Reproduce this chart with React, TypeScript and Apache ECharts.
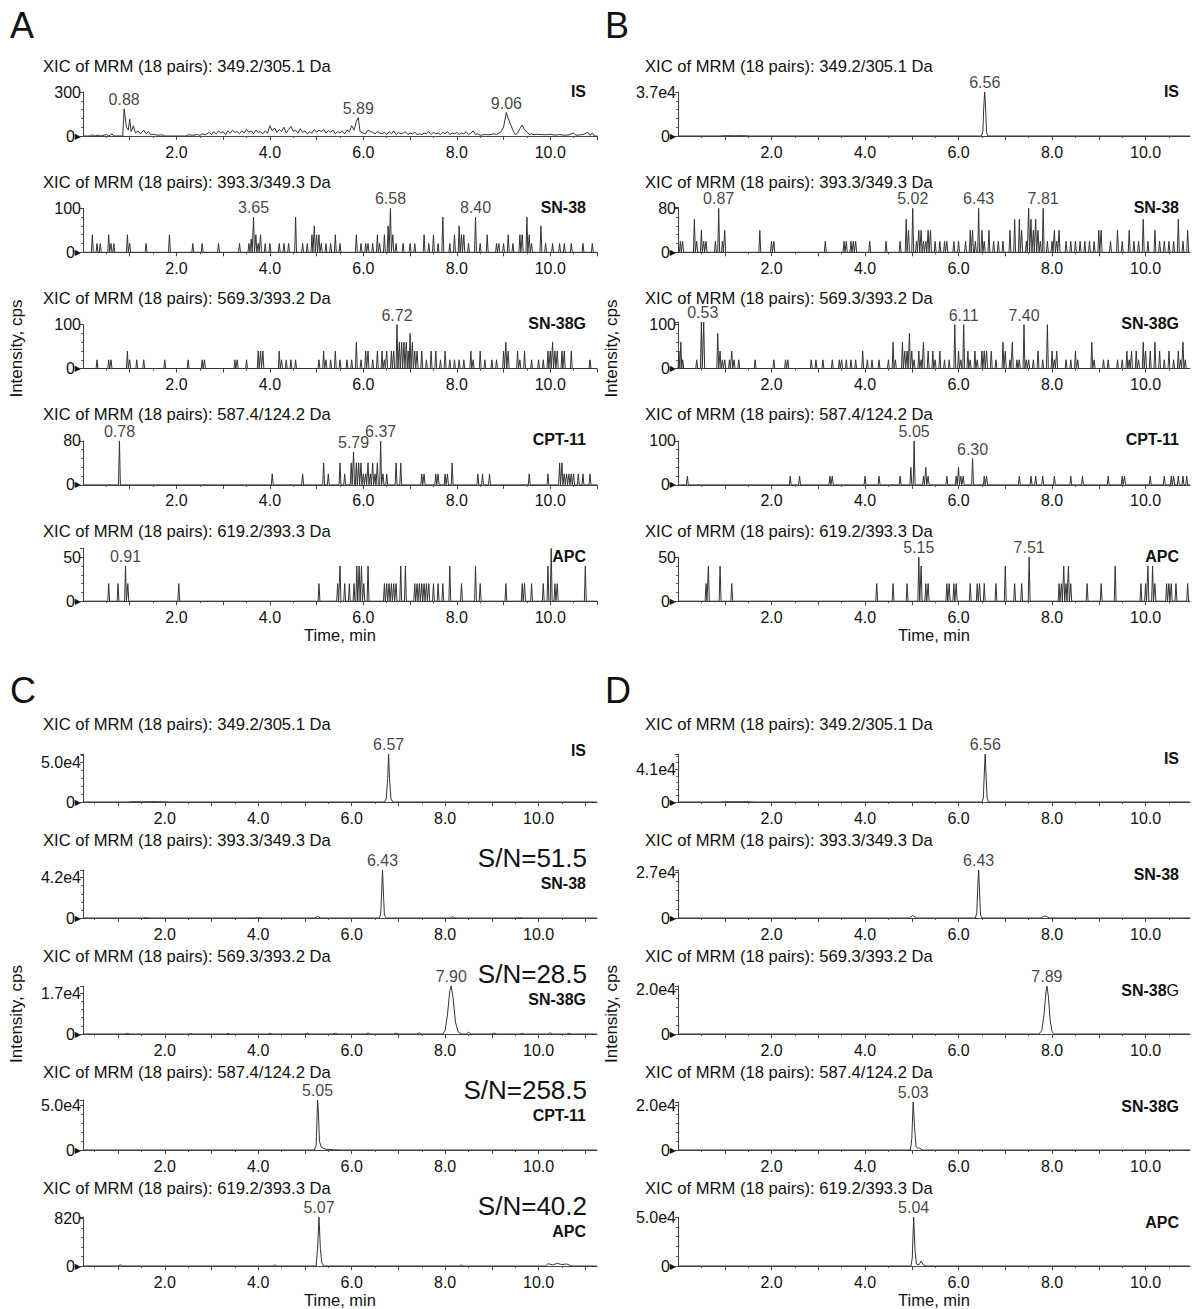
import { useEffect, useRef } from 'react';
import * as echarts from 'echarts';

const FONT = '"Liberation Sans", Arial, Helvetica, sans-serif';
const INK = '#111';
const LINE = '#333';

const TITLES = [
  'XIC of MRM (18 pairs): 349.2/305.1 Da',
  'XIC of MRM (18 pairs): 393.3/349.3 Da',
  'XIC of MRM (18 pairs): 569.3/393.2 Da',
  'XIC of MRM (18 pairs): 587.4/124.2 Da',
  'XIC of MRM (18 pairs): 619.2/393.3 Da',
];
const NAMES_ABC = ['IS', 'SN-38', 'SN-38G', 'CPT-11', 'APC'];
const NAMES_D = ['IS', 'SN-38', 'SN-38G', 'SN-38G', 'APC'];
const SN_C = ['', 'S/N=51.5', 'S/N=28.5', 'S/N=258.5', 'S/N=40.2'];
const X_LABELS = [2, 4, 6, 8, 10];
const X_TICKS = [1, 2, 3, 4, 5, 6, 7, 8, 9, 10, 11];
const X_HALF_TICKS = [0.5, 1.5, 2.5, 3.5, 4.5, 5.5, 6.5, 7.5, 8.5, 9.5, 10.5];

// y-axis: labelled tick value, its text, axis maximum
const Y_TICK_A = [300, 100, 100, 80, 50];
const Y_TEXT_A = ['300', '100', '100', '80', '50'];
const Y_MAX_A = [300, 100, 100, 80, 60];
const Y_TICK_B = [37000, 80, 100, 100, 50];
const Y_TEXT_B = ['3.7e4', '80', '100', '100', '50'];
const Y_MAX_B = [37000, 82, 106, 100, 50];
const Y_TICK_C = [50000, 42000, 17000, 50000, 820];
const Y_TEXT_C = ['5.0e4', '4.2e4', '1.7e4', '5.0e4', '820'];
const Y_MAX_C = [61000, 50000, 20000, 56000, 850];
const Y_TICK_D = [41000, 27000, 20000, 20000, 50000];
const Y_TEXT_D = ['4.1e4', '2.7e4', '2.0e4', '2.0e4', '5.0e4'];
const Y_MAX_D = [60000, 28500, 21500, 21500, 50000];

// ---------- Panel A traces ----------
const A1: number[][] = [
  [0.15, 0], [0.2, 8], [0.25, 0], [0.33, 6], [0.38, 0], [0.5, 10], [0.55, 0], [0.62, 15], [0.66, 0], [0.85, 0],
  [0.88, 185], [0.93, 60], [0.97, 40], [1.0, 115], [1.03, 30], [1.08, 70], [1.12, 20], [1.18, 35], [1.23, 15],
  [1.3, 40], [1.35, 15], [1.4, 30], [1.45, 8], [1.5, 12], [1.6, 5], [1.7, 8], [1.75, 0], [2.2, 0], [2.25, 8],
  [2.35, 5], [2.45, 10], [2.5, 4], [2.55, 15], [2.62, 8], [2.7, 25], [2.75, 10], [2.8, 30], [2.85, 15], [2.9, 35],
  [2.95, 20], [3.0, 30], [3.05, 10], [3.1, 35], [3.15, 20], [3.2, 40], [3.25, 25], [3.3, 30], [3.35, 15], [3.4, 35],
  [3.45, 20], [3.5, 45], [3.55, 25], [3.6, 35], [3.65, 15], [3.7, 40], [3.75, 25], [3.8, 30], [3.85, 15], [3.9, 35],
  [3.95, 20], [4.0, 70], [4.05, 35], [4.1, 55], [4.15, 25], [4.2, 45], [4.25, 30], [4.3, 60], [4.35, 20], [4.4, 45],
  [4.45, 65], [4.5, 30], [4.55, 40], [4.6, 20], [4.65, 50], [4.7, 25], [4.75, 35], [4.8, 15], [4.85, 30], [4.9, 20],
  [4.95, 45], [5.0, 25], [5.05, 40], [5.1, 30], [5.15, 45], [5.2, 20], [5.25, 35], [5.3, 25], [5.35, 40], [5.4, 15],
  [5.45, 30], [5.5, 20], [5.55, 35], [5.6, 15], [5.65, 40], [5.7, 30], [5.75, 70], [5.8, 40], [5.85, 100], [5.89, 125],
  [5.93, 30], [6.0, 20], [6.05, 15], [6.1, 40], [6.15, 30], [6.2, 25], [6.25, 15], [6.3, 30], [6.35, 20], [6.4, 15],
  [6.45, 25], [6.5, 10], [6.55, 30], [6.6, 15], [6.65, 35], [6.7, 10], [6.75, 25], [6.8, 15], [6.85, 20], [6.9, 30],
  [6.95, 10], [7.0, 20], [7.05, 15], [7.1, 25], [7.15, 10], [7.2, 15], [7.25, 10], [7.3, 20], [7.35, 15], [7.4, 30],
  [7.45, 10], [7.5, 25], [7.55, 15], [7.6, 20], [7.65, 10], [7.7, 25], [7.75, 15], [7.8, 30], [7.85, 10], [7.9, 20],
  [7.95, 15], [8.0, 25], [8.05, 10], [8.1, 20], [8.15, 15], [8.2, 30], [8.25, 10], [8.3, 20], [8.35, 35], [8.4, 10],
  [8.45, 15], [8.5, 5], [8.6, 10], [8.7, 8], [8.8, 15], [8.85, 10], [8.9, 20], [8.95, 30], [9.0, 60], [9.06, 160],
  [9.1, 120], [9.15, 80], [9.2, 40], [9.25, 10], [9.3, 20], [9.35, 50], [9.4, 75], [9.45, 40], [9.5, 30], [9.55, 10],
  [9.6, 15], [9.65, 8], [9.7, 12], [9.8, 10], [9.9, 8], [10.0, 12], [10.1, 6], [10.2, 10], [10.3, 5], [10.4, 8],
  [10.5, 20], [10.55, 5], [10.7, 10], [10.8, 25], [10.85, 5], [10.9, 20], [10.95, 0],
];
const A2_SPIKES: number[][] = [
  [0.2, 40], [0.3, 20], [0.37, 20], [0.55, 40], [0.6, 20], [0.66, 20], [0.95, 40], [1.0, 20], [1.35, 20], [1.85, 40],
  [2.35, 20], [2.55, 20], [2.9, 20], [3.35, 20], [3.55, 20], [3.6, 30], [3.65, 80], [3.7, 40], [3.75, 20], [3.8, 40],
  [3.9, 20], [4.0, 20], [4.2, 20], [4.3, 20], [4.4, 20], [4.55, 80], [4.7, 20], [4.8, 20], [4.9, 40], [4.95, 60],
  [5.0, 40], [5.05, 40], [5.1, 20], [5.2, 20], [5.3, 20], [5.4, 40], [5.5, 20], [5.85, 40], [5.95, 20], [6.05, 20],
  [6.1, 20], [6.2, 20], [6.3, 40], [6.35, 20], [6.45, 40], [6.53, 60], [6.58, 100], [6.63, 40], [6.7, 20], [6.85, 20],
  [7.0, 20], [7.1, 20], [7.3, 40], [7.4, 20], [7.5, 40], [7.6, 20], [7.7, 80], [7.85, 20], [7.95, 40], [8.05, 60],
  [8.1, 40], [8.15, 40], [8.25, 20], [8.4, 80], [8.5, 20], [8.65, 40], [8.85, 20], [8.9, 20], [9.0, 20], [9.1, 40],
  [9.2, 20], [9.35, 40], [9.4, 40], [9.5, 80], [9.55, 40], [9.6, 20], [9.8, 60], [9.9, 20], [10.05, 20], [10.2, 20],
  [10.3, 20], [10.45, 20], [10.7, 20], [10.9, 20],
];
const A3_SPIKES: number[][] = [
  [0.3, 20], [0.55, 20], [0.6, 20], [0.95, 40], [1.0, 20], [1.15, 20], [1.3, 20], [1.75, 20], [2.25, 20], [2.55, 20],
  [2.6, 20], [3.25, 20], [3.3, 20], [3.5, 20], [3.75, 40], [3.8, 40], [3.85, 40], [4.2, 40], [4.25, 20], [4.35, 20],
  [4.45, 20], [4.55, 20], [5.05, 20], [5.15, 40], [5.2, 20], [5.3, 20], [5.4, 40], [5.5, 20], [5.65, 20], [5.75, 20],
  [5.85, 60], [5.95, 20], [6.05, 40], [6.1, 40], [6.2, 20], [6.3, 40], [6.4, 40], [6.45, 20], [6.5, 40], [6.6, 40],
  [6.65, 40], [6.72, 100], [6.77, 60], [6.82, 60], [6.87, 60], [6.92, 60], [6.96, 40], [7.0, 80], [7.05, 60], [7.1, 40],
  [7.15, 40], [7.25, 40], [7.35, 20], [7.45, 40], [7.55, 40], [7.65, 20], [7.75, 40], [7.85, 20], [7.95, 20], [8.05, 20],
  [8.15, 20], [8.3, 40], [8.35, 20], [8.5, 40], [8.6, 20], [8.75, 20], [8.85, 20], [9.0, 40], [9.05, 60], [9.1, 40],
  [9.3, 40], [9.35, 20], [9.45, 40], [9.6, 20], [9.75, 20], [9.85, 20], [9.95, 40], [10.0, 40], [10.05, 60], [10.1, 40],
  [10.15, 40], [10.25, 40], [10.3, 40], [10.45, 40], [10.85, 20],
];
const A4_SPIKES: number[][] = [
  [0.78, 80], [4.05, 20], [4.7, 20], [5.15, 40], [5.25, 20], [5.5, 40], [5.6, 20], [5.74, 40], [5.79, 60], [5.85, 40],
  [5.9, 40], [5.95, 40], [6.0, 20], [6.05, 20], [6.1, 40], [6.15, 20], [6.2, 40], [6.25, 20], [6.3, 40], [6.37, 80],
  [6.42, 20], [6.5, 20], [6.7, 40], [6.8, 40], [7.25, 20], [7.3, 20], [7.55, 20], [7.6, 20], [7.75, 20], [7.8, 20],
  [7.9, 40], [8.45, 20], [8.55, 20], [8.7, 20], [9.55, 20], [9.95, 20], [10.2, 40], [10.25, 40], [10.3, 20], [10.35, 20],
  [10.4, 20], [10.45, 20], [10.5, 20], [10.6, 20], [10.7, 20], [10.85, 20],
];
const A5_SPIKES: number[][] = [
  [0.55, 20], [0.75, 20], [0.91, 40], [0.96, 20], [2.05, 20], [5.05, 20], [5.45, 20], [5.5, 40], [5.6, 20], [5.7, 20],
  [5.8, 20], [5.86, 40], [5.91, 40], [5.96, 40], [6.01, 20], [6.1, 40], [6.45, 20], [6.5, 20], [6.55, 20], [6.6, 20],
  [6.65, 20], [6.7, 20], [6.8, 40], [6.9, 40], [7.1, 20], [7.15, 20], [7.2, 20], [7.25, 20], [7.3, 20], [7.35, 20],
  [7.4, 20], [7.5, 20], [7.6, 20], [7.7, 20], [7.85, 40], [8.1, 20], [8.4, 40], [8.5, 20], [9.05, 20], [9.4, 20],
  [9.45, 20], [9.6, 20], [9.85, 20], [9.95, 40], [10.02, 60], [10.1, 20], [10.15, 20], [10.75, 40],
];

// ---------- Panel B traces ----------
const B1: number[][] = [
  [0.9, 0], [1.0, 300], [1.2, 200], [1.4, 300], [1.55, 0],
  [6.49, 0], [6.52, 4000], [6.54, 25000], [6.56, 37000], [6.58, 22000], [6.6, 3000], [6.63, 0],
];
const B2_SPIKES: number[][] = [
  [0.05, 20], [0.1, 20], [0.35, 60], [0.4, 20], [0.5, 40], [0.55, 20], [0.6, 20], [0.8, 20], [0.87, 80], [0.95, 20],
  [1.0, 40], [1.75, 40], [2.0, 20], [2.05, 20], [3.15, 20], [3.55, 20], [3.6, 20], [3.7, 20], [3.75, 20], [3.8, 20],
  [4.1, 20], [4.45, 20], [4.75, 20], [4.88, 60], [4.93, 40], [5.02, 80], [5.1, 20], [5.15, 40], [5.2, 40], [5.25, 20],
  [5.3, 20], [5.35, 40], [5.4, 40], [5.5, 20], [5.6, 20], [5.7, 20], [5.75, 20], [5.9, 20], [6.0, 20], [6.15, 20],
  [6.25, 40], [6.3, 40], [6.36, 20], [6.43, 80], [6.5, 40], [6.55, 20], [6.65, 40], [6.75, 20], [6.85, 20], [6.95, 20],
  [7.1, 40], [7.2, 60], [7.3, 60], [7.35, 40], [7.45, 20], [7.5, 80], [7.55, 60], [7.6, 40], [7.65, 60], [7.7, 40],
  [7.75, 20], [7.81, 80], [7.9, 20], [8.0, 20], [8.05, 40], [8.1, 20], [8.15, 40], [8.3, 20], [8.4, 20], [8.5, 20],
  [8.6, 20], [8.7, 20], [8.8, 20], [8.9, 20], [9.0, 40], [9.05, 40], [9.25, 20], [9.4, 40], [9.5, 20], [9.65, 40],
  [9.75, 20], [9.85, 20], [9.95, 60], [10.05, 20], [10.2, 40], [10.3, 20], [10.4, 20], [10.5, 20], [10.6, 20], [10.7, 60],
  [10.8, 20], [10.9, 40],
];
const B3_SPIKES: number[][] = [
  [0.02, 40], [0.06, 60], [0.1, 20], [0.4, 20], [0.5, 106], [0.55, 106], [0.85, 80], [0.9, 40], [0.95, 20], [1.0, 20],
  [1.1, 20], [1.15, 40], [1.2, 20], [1.3, 20], [1.65, 20], [2.05, 20], [2.3, 20], [2.35, 20], [2.85, 20], [2.95, 20],
  [3.1, 20], [3.3, 20], [3.45, 20], [3.5, 20], [3.6, 20], [3.7, 20], [3.8, 20], [3.95, 40], [4.05, 20], [4.15, 20],
  [4.3, 20], [4.5, 20], [4.6, 60], [4.65, 20], [4.8, 60], [4.85, 40], [4.9, 40], [4.95, 80], [5.0, 40], [5.05, 20],
  [5.15, 40], [5.2, 20], [5.25, 60], [5.35, 40], [5.45, 40], [5.5, 20], [5.6, 40], [5.7, 20], [5.8, 20], [5.92, 100],
  [6.0, 40], [6.05, 20], [6.11, 100], [6.2, 40], [6.25, 20], [6.35, 40], [6.4, 20], [6.5, 40], [6.55, 40], [6.6, 40],
  [6.7, 40], [6.8, 20], [6.95, 60], [7.0, 40], [7.1, 20], [7.15, 60], [7.25, 20], [7.3, 20], [7.4, 100], [7.45, 20],
  [7.5, 20], [7.6, 20], [7.7, 40], [7.8, 20], [7.9, 100], [8.0, 40], [8.05, 20], [8.1, 40], [8.3, 20], [8.4, 20],
  [8.5, 40], [8.55, 20], [8.85, 60], [8.9, 20], [9.1, 20], [9.2, 20], [9.4, 20], [9.5, 20], [9.6, 40], [9.65, 20],
  [9.7, 40], [9.8, 40], [9.85, 20], [9.95, 60], [10.0, 40], [10.1, 40], [10.2, 60], [10.3, 40], [10.4, 20], [10.5, 40],
  [10.6, 20], [10.7, 40], [10.75, 20], [10.8, 60], [10.85, 20],
];
const B4_SPIKES: number[][] = [
  [0.2, 20], [2.4, 20], [2.6, 20], [3.25, 20], [3.3, 20], [4.0, 20], [4.3, 20], [4.75, 20], [4.98, 40], [5.05, 100],
  [5.25, 20], [5.3, 40], [5.35, 20], [5.75, 20], [5.95, 20], [6.0, 40], [6.05, 20], [6.1, 20], [6.3, 60], [6.55, 20],
  [6.6, 20], [7.3, 20], [7.55, 20], [7.65, 20], [7.8, 20], [8.05, 20], [8.4, 20], [8.65, 20], [9.2, 20], [9.5, 20],
  [9.55, 20], [10.1, 20], [10.4, 20], [10.55, 20], [10.6, 20], [10.7, 20], [10.8, 20], [10.88, 20],
];
const B5_SPIKES: number[][] = [
  [0.6, 20], [0.65, 40], [0.9, 40], [1.15, 20], [4.25, 20], [4.6, 20], [4.9, 20], [5.15, 50], [5.2, 40], [5.3, 20],
  [5.35, 20], [5.75, 20], [5.8, 20], [5.9, 20], [5.95, 20], [6.25, 20], [6.4, 20], [6.45, 20], [6.55, 20], [6.8, 20],
  [7.0, 40], [7.2, 20], [7.35, 20], [7.51, 50], [8.15, 20], [8.2, 20], [8.25, 40], [8.3, 20], [8.35, 40], [8.4, 20],
  [8.75, 20], [9.05, 20], [9.35, 40], [9.9, 20], [10.0, 20], [10.05, 40], [10.15, 40], [10.2, 20], [10.45, 20], [10.5, 20],
  [10.55, 20], [10.65, 20], [10.9, 20],
];

// ---------- Panel C traces ----------
const C1: number[][] = [
  [1.2, 0], [1.3, 400], [1.5, 300], [1.7, 500], [1.9, 300], [2.1, 0],
  [6.7, 0], [6.74, 4000], [6.77, 30000], [6.79, 61000], [6.81, 30000], [6.84, 4000], [6.88, 0],
];
const C2: number[][] = [
  [1.5, 0], [1.6, 300], [1.7, 0], [3.9, 0], [4.0, 300], [4.1, 0],
  [5.2, 0], [5.27, 1500], [5.34, 0],
  [6.58, 0], [6.62, 3000], [6.64, 25000], [6.66, 50000], [6.68, 25000], [6.7, 3000], [6.74, 0],
  [8.1, 0], [8.16, 1200], [8.22, 0], [9.5, 0], [9.6, 300], [9.7, 0],
];
const C3: number[][] = [
  [1.15, 0], [1.2, 300], [1.25, 0], [2.5, 0], [2.55, 200], [2.6, 0], [3.3, 0], [3.35, 250], [3.4, 0],
  [4.2, 0], [4.25, 300], [4.3, 0], [5.0, 0], [5.05, 350], [5.1, 0], [5.6, 0], [5.65, 300], [5.7, 0],
  [6.3, 0], [6.35, 400], [6.4, 0], [6.9, 0], [6.95, 350], [7.0, 0], [7.4, 0], [7.45, 500], [7.5, 0],
  [7.95, 0], [8.0, 1500], [8.05, 8000], [8.1, 18000], [8.13, 20000], [8.17, 15000], [8.22, 5000], [8.28, 800], [8.35, 0],
  [8.45, 0], [8.5, 700], [8.55, 0], [9.0, 0], [9.05, 400], [9.1, 0], [9.6, 0], [9.65, 350], [9.7, 0],
  [10.2, 0], [10.25, 500], [10.3, 0], [10.6, 0], [10.65, 300], [10.7, 0],
];
const C4: number[][] = [
  [5.2, 0], [5.24, 5000], [5.27, 56000], [5.29, 40000], [5.31, 10000], [5.35, 3000], [5.45, 800], [5.6, 300], [5.8, 0],
];
const C5: number[][] = [
  [1.0, 0], [1.05, 20], [1.1, 0], [4.3, 0], [4.35, 20], [4.4, 0],
  [5.24, 0], [5.27, 300], [5.3, 850], [5.33, 300], [5.36, 60], [5.4, 0],
  [8.3, 0], [8.35, 20], [8.4, 0], [10.15, 0], [10.2, 40], [10.3, 20], [10.4, 45], [10.5, 25], [10.6, 35], [10.7, 0],
];

// ---------- Panel D traces ----------
const D1: number[][] = [
  [0.9, 0], [1.0, 400], [1.3, 300], [1.5, 400], [1.65, 0],
  [6.5, 0], [6.53, 5000], [6.55, 35000], [6.57, 60000], [6.59, 30000], [6.61, 5000], [6.64, 0],
];
const D2: number[][] = [
  [4.95, 0], [5.02, 1500], [5.1, 0],
  [6.36, 0], [6.39, 3000], [6.41, 18000], [6.43, 28500], [6.45, 15000], [6.47, 2000], [6.5, 0],
  [7.75, 0], [7.85, 1300], [7.95, 0],
];
const D3: number[][] = [
  [7.72, 0], [7.78, 1500], [7.83, 9000], [7.87, 19000], [7.89, 21500], [7.92, 17000], [7.96, 6000], [8.0, 1000], [8.05, 0],
];
const D4: number[][] = [
  [4.97, 0], [5.0, 5000], [5.03, 21500], [5.06, 10000], [5.09, 1500], [5.13, 800], [5.17, 900], [5.22, 0],
];
const D5: number[][] = [
  [4.98, 0], [5.01, 8000], [5.04, 50000], [5.07, 15000], [5.1, 2000], [5.15, 1000], [5.2, 5000], [5.24, 1500], [5.3, 0],
];

// ---------- peak labels: [time on axis, intensity, text] ----------
const PEAKS_A: any[][] = [
  [[0.88, 185, '0.88'], [5.89, 125, '5.89'], [9.06, 160, '9.06']],
  [[3.65, 80, '3.65'], [6.58, 100, '6.58'], [8.4, 80, '8.40']],
  [[6.72, 100, '6.72']],
  [[0.78, 80, '0.78'], [5.79, 60, '5.79'], [6.37, 80, '6.37']],
  [[0.91, 40, '0.91']],
];
const PEAKS_B: any[][] = [
  [[6.56, 37000, '6.56']],
  [[0.87, 80, '0.87'], [5.02, 80, '5.02'], [6.43, 80, '6.43'], [7.81, 80, '7.81']],
  [[0.53, 106, '0.53'], [6.11, 100, '6.11'], [7.4, 100, '7.40']],
  [[5.05, 100, '5.05'], [6.3, 60, '6.30']],
  [[5.15, 50, '5.15'], [7.51, 50, '7.51']],
];
const PEAKS_C: any[][] = [
  [[6.79, 61000, '6.57']],
  [[6.66, 50000, '6.43']],
  [[8.13, 20000, '7.90']],
  [[5.27, 56000, '5.05']],
  [[5.3, 850, '5.07']],
];
const PEAKS_D: any[][] = [
  [[6.57, 60000, '6.56']],
  [[6.43, 28500, '6.43']],
  [[7.89, 21500, '7.89']],
  [[5.03, 21500, '5.03']],
  [[5.04, 50000, '5.04']],
];

function spikeTrace(list: number[][], xMin: number, xMax: number): number[][] {
  const w = 0.02;
  const out: number[][] = [[xMin, 0]];
  [...list].sort((a, b) => a[0] - b[0]).forEach(([t, h]) => {
    out.push([t - w, 0], [t, h], [t + w, 0]);
  });
  out.push([xMax, 0]);
  return out;
}
function pointTrace(list: number[][], xMin: number, xMax: number): number[][] {
  return [[xMin, 0], ...list, [xMax, 0]];
}

type Panel = {
  letter: string;
  left: number;
  width: number;
  titleX: number;
  xMin: number;
  xMax: number;
  zero0: number;
  step: number;
  heights: number[];
  yTick: number[];
  yText: string[];
  yMax: number[];
  traces: number[][][];
  peaks: any[][];
  kind: 'AB' | 'C' | 'D';
};

function buildPanels(): Panel[] {
  const hAB = (ticks: number[], maxes: number[]) => maxes.map((m, i) => (44 * m) / ticks[i]);
  return [
    {
      letter: 'A', left: 83, width: 514, titleX: 43, xMin: 0, xMax: 11.0, zero0: 136, step: 116.3,
      heights: hAB(Y_TICK_A, Y_MAX_A), yTick: Y_TICK_A, yText: Y_TEXT_A, yMax: Y_MAX_A,
      traces: [
        pointTrace(A1, 0, 11.0), spikeTrace(A2_SPIKES, 0, 11.0), spikeTrace(A3_SPIKES, 0, 11.0),
        spikeTrace(A4_SPIKES, 0, 11.0), spikeTrace(A5_SPIKES, 0, 11.0),
      ],
      peaks: PEAKS_A, kind: 'AB',
    },
    {
      letter: 'B', left: 678, width: 512, titleX: 645, xMin: 0, xMax: 10.95, zero0: 136, step: 116.3,
      heights: hAB(Y_TICK_B, Y_MAX_B), yTick: Y_TICK_B, yText: Y_TEXT_B, yMax: Y_MAX_B,
      traces: [
        pointTrace(B1, 0, 10.95), spikeTrace(B2_SPIKES, 0, 10.95), spikeTrace(B3_SPIKES, 0, 10.95),
        spikeTrace(B4_SPIKES, 0, 10.95), spikeTrace(B5_SPIKES, 0, 10.95),
      ],
      peaks: PEAKS_B, kind: 'AB',
    },
    {
      letter: 'C', left: 83, width: 514, titleX: 43, xMin: 0.25, xMax: 11.25, zero0: 802, step: 116,
      heights: [48, 48, 48, 50, 49], yTick: Y_TICK_C, yText: Y_TEXT_C, yMax: Y_MAX_C,
      traces: [C1, C2, C3, C4, C5].map((d) => pointTrace(d, 0.25, 11.25)),
      peaks: PEAKS_C, kind: 'C',
    },
    {
      letter: 'D', left: 678, width: 512, titleX: 645, xMin: 0, xMax: 10.95, zero0: 802, step: 116,
      heights: [48, 48, 48, 48, 49], yTick: Y_TICK_D, yText: Y_TEXT_D, yMax: Y_MAX_D,
      traces: [D1, D2, D3, D4, D5].map((d) => pointTrace(d, 0, 10.95)),
      peaks: PEAKS_D, kind: 'D',
    },
  ];
}

function txt(x: number, y: number, text: string, extra: any = {}, rotation = 0) {
  return {
    type: 'text',
    x,
    y,
    rotation,
    silent: true,
    style: {
      text,
      fontFamily: FONT,
      fontSize: 16,
      fill: INK,
      align: 'left',
      verticalAlign: 'middle',
      ...extra,
    },
  };
}

function buildOption() {
  const panels = buildPanels();
  const grid: any[] = [];
  const xAxis: any[] = [];
  const xMinorAxis: any[] = [];
  const yAxis: any[] = [];
  const series: any[] = [];
  const graphic: any[] = [];

  panels.forEach((p) => {
    const panelTop = p.zero0 - (p.kind === 'AB' ? 111 : 112);
    graphic.push(txt(p.left - 73, panelTop, p.letter, { fontSize: 36 }));
    const lastZero = p.zero0 + 4 * p.step;
    graphic.push(txt(p.left + p.width / 2, lastZero + 34, 'Time, min', { align: 'center', fontSize: 16.5 }));
    graphic.push(
      txt(p.left - 67, p.zero0 + 2 * p.step - 20, 'Intensity, cps', { align: 'center', fontSize: 17 }, Math.PI / 2)
    );

    for (let i = 0; i < 5; i++) {
      const k = grid.length;
      const zero = p.zero0 + i * p.step;
      const h = p.heights[i];
      grid.push({ left: p.left, top: zero - h, width: p.width, height: h });

      xAxis.push({
        gridIndex: k,
        type: 'value',
        min: p.xMin,
        max: p.xMax,
        axisLine: { show: true, onZero: false, lineStyle: { color: '#444', width: 1 } },
        axisTick: {
          show: true,
          length: 4,
          customValues: X_TICKS.filter((v) => v >= p.xMin && v <= p.xMax),
          lineStyle: { color: '#444' },
        },
        axisLabel: {
          customValues: X_LABELS,
          formatter: (v: number) => v.toFixed(1),
          fontFamily: FONT,
          fontSize: 16,
          color: INK,
          margin: 8,
        },
        splitLine: { show: false },
      });
      xMinorAxis.push({
        gridIndex: k,
        type: 'value',
        position: 'bottom',
        min: p.xMin,
        max: p.xMax,
        axisLine: { show: false },
        axisTick: {
          show: true,
          length: 2,
          customValues: X_HALF_TICKS.filter((v) => v >= p.xMin && v <= p.xMax),
          lineStyle: { color: '#555' },
        },
        axisLabel: { show: false },
        splitLine: { show: false },
      });

      const tick = p.yTick[i];
      const tickText = p.yText[i];
      yAxis.push({
        gridIndex: k,
        type: 'value',
        min: 0,
        max: p.yMax[i],
        interval: tick,
        axisLine: { show: true, lineStyle: { color: '#444', width: 1 } },
        axisTick: { show: true, length: 3, lineStyle: { color: '#444' } },
        minorTick: { show: true, splitNumber: 5, length: 2, lineStyle: { color: '#666' } },
        splitLine: { show: false },
        axisLabel: {
          margin: 2,
          fontFamily: FONT,
          fontSize: 16,
          color: INK,
          formatter: (v: number) => (v === 0 ? '{z|0}{t|▶}' : Math.abs(v - tick) < 1e-9 ? tickText : ''),
          rich: {
            z: { fontFamily: FONT, fontSize: 16, color: INK },
            t: { fontFamily: 'DejaVu Sans', fontSize: 8, color: INK },
          },
        },
      });

      series.push({
        type: 'line',
        xAxisIndex: k,
        yAxisIndex: k,
        data: p.traces[i],
        showSymbol: false,
        symbol: 'none',
        lineStyle: { color: LINE, width: 1 },
        silent: true,
        z: 2,
      });
      series.push({
        type: 'scatter',
        xAxisIndex: k,
        yAxisIndex: k,
        data: p.peaks[i],
        symbolSize: 1,
        itemStyle: { color: 'rgba(0,0,0,0)' },
        clip: false,
        silent: true,
        z: 3,
        label: {
          show: true,
          position: 'top',
          distance: 1,
          formatter: (q: any) => q.value[2],
          fontFamily: FONT,
          fontSize: 16,
          color: INK,
        },
      });

      // titles and names
      const titleDy = p.kind === 'AB' ? -70 : -78;
      graphic.push(txt(p.titleX, zero + titleDy, TITLES[i], { fontSize: 16.6 }));
      const nameRight = p.left + p.width - 11;
      if (p.kind === 'AB') {
        graphic.push(txt(nameRight, zero - 45, NAMES_ABC[i], { align: 'right', fontWeight: 'bold' }));
      } else if (p.kind === 'C') {
        if (i === 0) {
          graphic.push(txt(nameRight, zero - 52, NAMES_ABC[i], { align: 'right', fontWeight: 'bold' }));
        } else {
          graphic.push(txt(nameRight + 1, zero - 60, SN_C[i], { align: 'right', fontSize: 26 }));
          graphic.push(txt(nameRight, zero - 35, NAMES_ABC[i], { align: 'right', fontWeight: 'bold' }));
        }
      } else {
        if (i === 2) {
          graphic.push({
            type: 'text',
            x: nameRight,
            y: zero - 44,
            silent: true,
            style: {
              text: '{b|SN-38}{n|G}',
              align: 'right',
              verticalAlign: 'middle',
              rich: {
                b: { fontFamily: FONT, fontSize: 16, fontWeight: 'bold', fill: INK },
                n: { fontFamily: FONT, fontSize: 16, fill: INK },
              },
            },
          });
        } else {
          graphic.push(txt(nameRight, zero - 44, NAMES_D[i], { align: 'right', fontWeight: 'bold' }));
        }
      }
    }
  });

  return {
    animation: false,
    backgroundColor: '#ffffff',
    textStyle: { fontFamily: FONT },
    grid,
    xAxis: [...xAxis, ...xMinorAxis],
    yAxis,
    series,
    graphic,
  };
}

export default function App() {
  const ref = useRef<HTMLDivElement>(null);
  useEffect(() => {
    if (!ref.current) return;
    const chart = echarts.init(ref.current, undefined, { renderer: 'svg' });
    chart.setOption(buildOption() as any);
    return () => chart.dispose();
  }, []);
  return (
    <div
      ref={ref}
      style={{ position: 'absolute', left: 0, top: 0, width: 1192, height: 1309, background: '#fff' }}
    />
  );
}
